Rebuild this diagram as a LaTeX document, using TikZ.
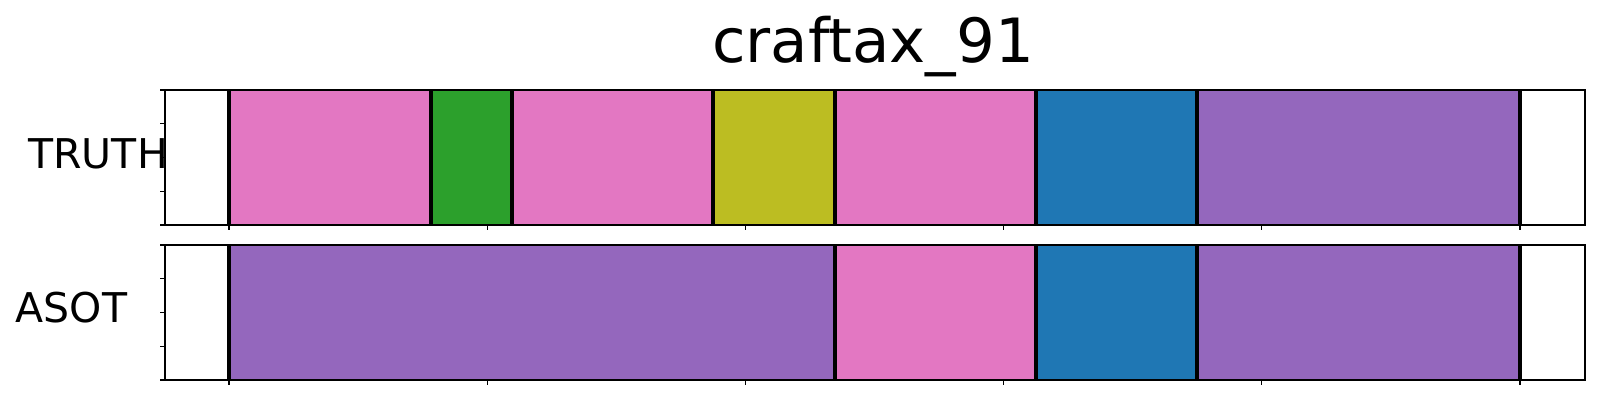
\documentclass[tikz,border=0pt]{standalone}
\usepackage{fontspec}
\setmainfont{DejaVu Sans}
\definecolor{tpink}{HTML}{E377C2}
\definecolor{tgreen}{HTML}{2CA02C}
\definecolor{tolive}{HTML}{BCBD22}
\definecolor{tblue}{HTML}{1F77B4}
\definecolor{tpurple}{HTML}{9467BD}
\begin{document}
\begin{tikzpicture}[x=0.5pt,y=-0.5pt,
  bound/.style={line width=1.9pt,black},
  frame/.style={line width=0.8pt,black},
  tick/.style={line width=0.6pt,black},
  lbl/.style={font=\fontsize{20.5pt}{24pt}\selectfont,inner sep=0pt,anchor=base west}]
\useasboundingbox (0,0) rectangle (1600,400);
\fill[white] (0,0) rectangle (1600,400);
% TRUTH row
\fill[tpink]   (229,90) rectangle (431,225);
\fill[tgreen]  (431,90) rectangle (512,225);
\fill[tpink]   (512,90) rectangle (713,225);
\fill[tolive]  (713,90) rectangle (835,225);
\fill[tpink]   (835,90) rectangle (1036,225);
\fill[tblue]   (1036,90) rectangle (1197,225);
\fill[tpurple] (1197,90) rectangle (1520,225);
\foreach \x in {229,431,512,713,835,1036,1197,1520}
  \draw[bound] (\x,90) -- (\x,225);
% ASOT row
\fill[tpurple] (229,245) rectangle (835,380);
\fill[tpink]   (835,245) rectangle (1036,380);
\fill[tblue]   (1036,245) rectangle (1197,380);
\fill[tpurple] (1197,245) rectangle (1520,380);
\foreach \x in {229,835,1036,1197,1520}
  \draw[bound] (\x,245) -- (\x,380);
% frames
\draw[frame] (165,90) rectangle (1585,225);
\draw[frame] (165,245) rectangle (1585,380);
% ticks
\foreach \y in {90,123.75,157.5,191.25,225}
  \draw[tick] (160,\y) -- (165,\y);
\foreach \y in {245,278.75,312.5,346.25,380}
  \draw[tick] (160,\y) -- (165,\y);
\foreach \x in {229,487.2,745.4,1003.6,1261.8,1520} {
  \draw[tick] (\x,225) -- (\x,230);
  \draw[tick] (\x,380) -- (\x,385);
}
% texts
\node[font=\fontsize{30.5pt}{36pt}\selectfont,inner sep=0pt,anchor=base] (title) at (873,63) {craftax\_91};
\node[lbl] (truth) at (28,169) {TRUTH};
\node[lbl] (asot) at (15.5,323) {ASOT};
\end{tikzpicture}
\end{document}
